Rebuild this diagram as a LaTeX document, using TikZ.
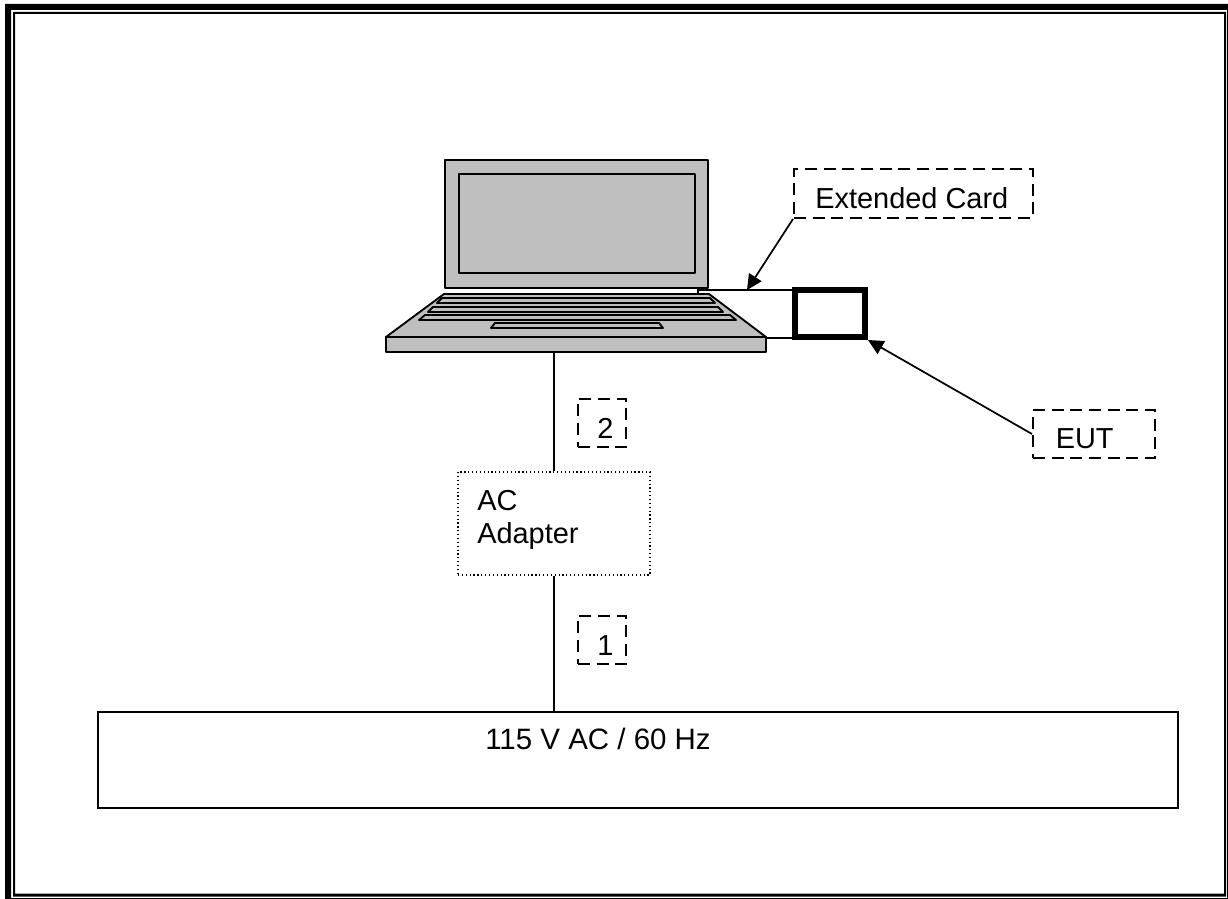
\documentclass[tikz,border=0pt]{standalone}
\usepackage{fontspec}
\setmainfont{Liberation Sans}
\usetikzlibrary{arrows.meta,calc}
\tikzset{
  x=0.75pt,y=-0.75pt,
  wire/.style={draw=black,line width=1.3pt},
  part/.style={draw=black,fill=lapgray,line width=1.4pt,line join=round},
  callout/.style={draw=black,line width=1.5pt,dash pattern=on 9pt off 5pt,rectangle,inner sep=0pt},
  adapterbox/.style={draw=black,line width=0.9pt,dotted,rectangle,inner sep=0pt},
  mainsbox/.style={draw=black,line width=1.4pt,rectangle,inner sep=0pt},
  eutbox/.style={draw=black,line width=4.5pt,rectangle,inner sep=0pt},
  pointer/.style={draw=black,line width=1.3pt,-{Triangle[length=11.5pt,width=11pt]}},
  txt/.style={font=\fontsize{21.7pt}{26pt}\selectfont,inner sep=0pt,anchor=base west,text=black},
}
\definecolor{lapgray}{gray}{0.75}
\begin{document}
\begin{tikzpicture}
\useasboundingbox (0,0) rectangle (1228,899);
% page border
\fill[black,even odd rule] (5,4) rectangle (1228,899) (11,10) rectangle (1227,898);
\fill[black,even odd rule] (13,12) rectangle (1226,896.5) (15,14) rectangle (1224,893.5);
% laptop
\draw[part] (445,160) rectangle (708,288);
\draw[part] (459,174) rectangle (695,273);
\draw[part] (444,294) -- (709,294) -- (766,337) -- (386,337) -- cycle;
\draw[part] (442,298) -- (710,298) -- (715,303) -- (437,303) -- cycle;
\draw[part] (433,307) -- (718,307) -- (723,312) -- (428,312) -- cycle;
\draw[part] (425,315) -- (730,315) -- (736,320) -- (419,320) -- cycle;
\draw[part] (495,323) -- (659,323) -- (663,328) -- (491,328) -- cycle;
\node[part,rectangle,inner sep=0pt,minimum width=285pt,minimum height=11.25pt] (base) at (576,344.5) {};
% EUT block
\node[eutbox,minimum width=52.5pt,minimum height=35.25pt] (eut) at (830,313.5) {};
% slots
\coordinate (slottop) at (698,294);
\coordinate (slotcorner) at (698,290);
\coordinate (cardtip) at (747,290);
\draw[wire] (slottop) -- (slotcorner) -- (cardtip) -- (eut.west |- cardtip);
\draw[wire] (766,338) -- (eut.west |- 0,338);
% callouts
\node[callout,minimum width=179.25pt,minimum height=36.75pt] (card) at (913.5,193.5) {};
\node[txt] (cardtext) at (815,208) {Extended Card};
\node[callout,minimum width=91.5pt,minimum height=36pt] (eutlabel) at (1094,434) {};
\node[txt] (euttext) at (1055.5,448.5) {EUT};
\node[callout,minimum width=36pt,minimum height=36pt] (two) at (602,423) {};
\node[txt] (twotext) at (597,438) {2};
\node[callout,minimum width=36pt,minimum height=36pt] (one) at (602,640) {};
\node[txt] (onetext) at (597,655) {1};
% adapter and mains
\node[adapterbox,minimum width=144pt,minimum height=77.25pt] (adapter) at (554,523.5) {};
\node[txt] (actext) at (477,510) {AC};
\node[txt] (adaptext) at (477,543) {Adapter};
\node[mainsbox,minimum width=810pt,minimum height=72pt] (mains) at (638,760) {};
\node[txt,font=\fontsize{22.1pt}{26pt}\selectfont] (mainstext) at (485,749) {115 V AC / 60 Hz};
% connectors
\draw[wire] (adapter.north |- base.south) -- (adapter.north);
\draw[wire] (adapter.south) -- (adapter.south |- mains.north);
\draw[pointer] (card.south west) -- (cardtip);
\draw[pointer] (eutlabel.west) -- (eut.south east);
\end{tikzpicture}
\end{document}
